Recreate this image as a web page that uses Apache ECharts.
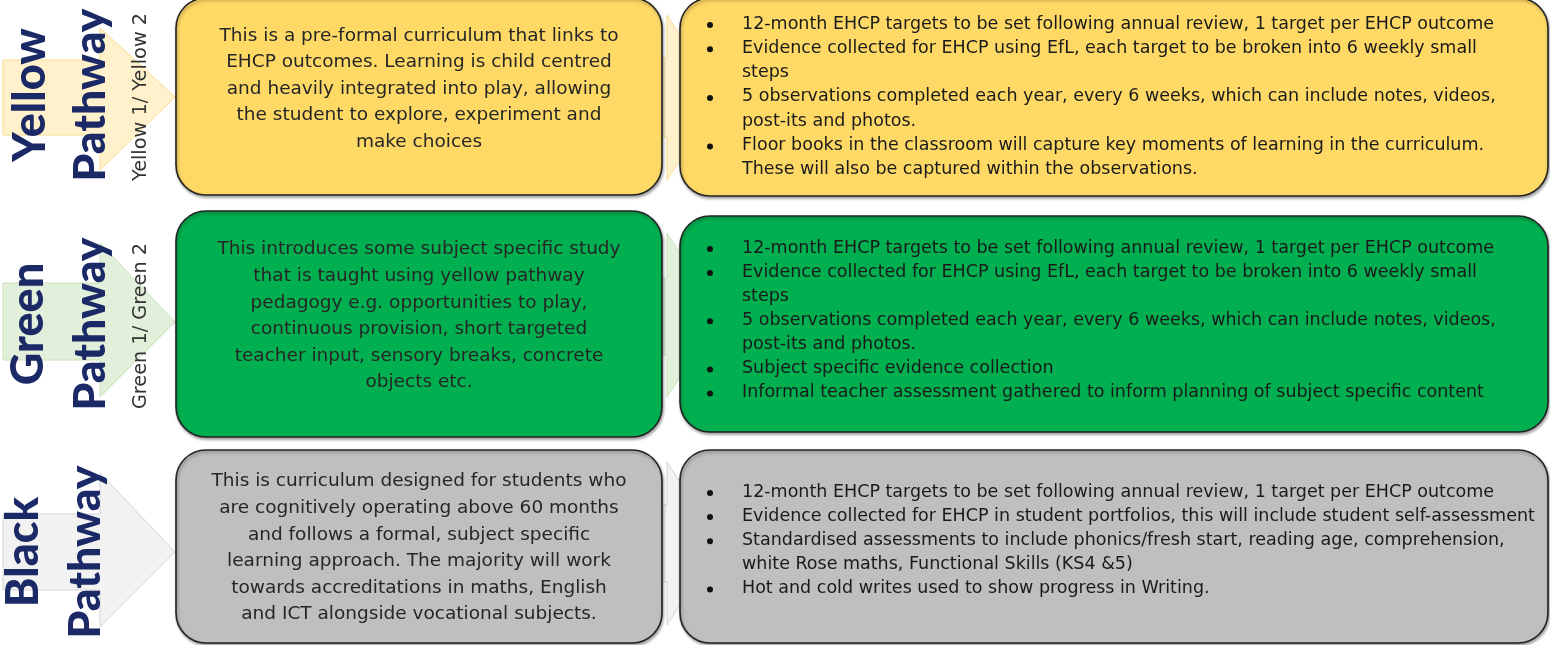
<!DOCTYPE html>
<html>
<head>
<meta charset="utf-8">
<script src="https://cdn.jsdelivr.net/npm/echarts@6/dist/echarts.min.js"></script>
<style>html,body{margin:0;padding:0;background:#fff;}#c{width:1550px;height:645px;}</style>
</head>
<body>
<div id="c"></div>
<script>
// ---- content ----
const pathways = ['Yellow', 'Green', 'Black'];
const pathwayWord = 'Pathway';
const stageLabels = ['Yellow 1/ Yellow 2', 'Green 1/ Green 2', ''];
const descriptions = [
  ['This is a pre-formal curriculum that links to', 'EHCP outcomes. Learning is child centred', 'and heavily integrated into play, allowing', 'the student to explore, experiment and', 'make choices'],
  ['This introduces some subject specific study', 'that is taught using yellow pathway', 'pedagogy e.g. opportunities to play,', 'continuous provision, short targeted', 'teacher input, sensory breaks, concrete', 'objects etc.'],
  ['This is curriculum designed for students who', 'are cognitively operating above 60 months', 'and follows a formal, subject specific', 'learning approach. The majority will work', 'towards accreditations in maths, English', 'and ICT alongside vocational subjects.']
];
const assessments = [
  [
    ['12-month EHCP targets to be set following annual review, 1 target per EHCP outcome'],
    ['Evidence collected for EHCP using EfL, each target to be broken into 6 weekly small', 'steps'],
    ['5 observations completed each year, every 6 weeks, which can include notes, videos,', 'post-its and photos.'],
    ['Floor books in the classroom will capture key moments of learning in the curriculum.', 'These will also be captured within the observations.']
  ],
  [
    ['12-month EHCP targets to be set following annual review, 1 target per EHCP outcome'],
    ['Evidence collected for EHCP using EfL, each target to be broken into 6 weekly small', 'steps'],
    ['5 observations completed each year, every 6 weeks, which can include notes, videos,', 'post-its and photos.'],
    ['Subject specific evidence collection'],
    ['Informal teacher assessment gathered to inform planning of subject specific content']
  ],
  [
    ['12-month EHCP targets to be set following annual review, 1 target per EHCP outcome'],
    ['Evidence collected for EHCP in student portfolios, this will include student self-assessment'],
    ['Standardised assessments to include phonics/fresh start, reading age, comprehension,', 'white Rose maths, Functional Skills (KS4 &5)'],
    ['Hot and cold writes used to show progress in Writing.']
  ]
];

// ---- styles ----
const boxFills = ['#ffd966', '#00b050', '#bfbfbf'];
const arrowFills = ['#fff1cc', '#e2efda', '#f2f2f2'];
const arrowStrokes = ['#fadb8e', '#c9e2b8', '#d4d4d4'];
const navy = '#1b2a66';

// ---- layout (canvas units) ----
const colX = { arrowL: 3, headBase: 100, tip: 175, leftBox: 176, leftBoxR: 662, midHeadBase: 667, midTip: 720, rightBox: 680, rightBoxR: 1548, bullet: 710, bulletText: 742 };
const rowLayout = [
  { top: -2, bottom: 195, rTop: -2, rBottom: 196, descY: 89, firstLine: 24, lh: 24.3, rect: [60, 135], head: [28, 170], tipY: 97, mRect: [58, 137], mHead: [15, 180], labelY: 95, wordX: 30, pathX: 91, stageY: 97 },
  { top: 211, bottom: 437, rTop: 216, rBottom: 432, descY: 316, firstLine: 248, lh: 24.1, rect: [283, 360], head: [243, 397], tipY: 322, mRect: [278, 355], mHead: [233, 397], labelY: 324, wordX: 28, pathX: 91, stageY: 326 },
  { top: 450, bottom: 643, rTop: 450, rBottom: 643, descY: 548, firstLine: 492, lh: 24.1, rect: [514, 590], head: [473, 627], tipY: 552, mRect: [505, 582], mHead: [462, 625], labelY: 552, wordX: 23, pathX: 86, stageY: 550 }
];

const chart = echarts.init(document.getElementById('c'), null, { renderer: 'canvas' });

function renderItem(params, api) {
  const i = api.value(0);
  const L = rowLayout[i];
  const P = (x, y) => api.coord([x, y]);
  const children = [];
  const arrow = (x0, hb, tip, rect, head, ty) => [P(x0, rect[0]), P(hb, rect[0]), P(hb, head[0]), P(tip, ty), P(hb, head[1]), P(hb, rect[1]), P(x0, rect[1])];
  children.push({ type: 'polygon', shape: { points: arrow(colX.arrowL, colX.headBase, colX.tip, L.rect, L.head, L.tipY) }, style: { fill: arrowFills[i], stroke: arrowStrokes[i], lineWidth: 1 } });
  children.push({ type: 'polygon', shape: { points: arrow(600, colX.midHeadBase, colX.midTip, L.mRect, L.mHead, (L.mHead[0] + L.mHead[1]) / 2) }, style: { fill: arrowFills[i], stroke: arrowStrokes[i], lineWidth: 1 } });
  const boxStyle = { fill: boxFills[i], stroke: '#222', lineWidth: 1.6, shadowBlur: 3, shadowOffsetX: 1, shadowOffsetY: 2, shadowColor: 'rgba(0,0,0,0.35)' };
  const a = P(colX.leftBox, L.top), b = P(colX.leftBoxR, L.bottom);
  children.push({ type: 'rect', shape: { x: a[0], y: a[1], width: b[0] - a[0], height: b[1] - a[1], r: 30 }, style: boxStyle });
  const c1 = P(colX.rightBox, L.rTop), c2 = P(colX.rightBoxR, L.rBottom);
  children.push({ type: 'rect', shape: { x: c1[0], y: c1[1], width: c2[0] - c1[0], height: c2[1] - c1[1], r: 30 }, style: boxStyle });
  const w = P(L.wordX, L.labelY);
  children.push({ type: 'text', x: w[0], y: w[1], rotation: Math.PI / 2, style: { text: pathways[i], align: 'center', verticalAlign: 'middle', fontFamily: 'Lato', fontWeight: 900, fontSize: 45, fill: navy } });
  const pw = P(L.pathX, L.labelY);
  children.push({ type: 'text', x: pw[0], y: pw[1], rotation: Math.PI / 2, style: { text: pathwayWord, align: 'center', verticalAlign: 'middle', fontFamily: 'Lato', fontWeight: 900, fontSize: 44.5, fill: navy } });
  if (stageLabels[i]) {
    const s = P(141, L.stageY);
    children.push({ type: 'text', x: s[0], y: s[1], rotation: Math.PI / 2, style: { text: stageLabels[i], align: 'center', verticalAlign: 'middle', fontFamily: 'DejaVu Sans', fontSize: 19.3, fill: '#333' } });
  }
  const d = P((colX.leftBox + colX.leftBoxR) / 2, L.descY);
  children.push({ type: 'text', x: d[0], y: d[1], style: { text: descriptions[i].join('\n'), align: 'center', verticalAlign: 'middle', fontFamily: 'DejaVu Sans', fontSize: 18.5, lineHeight: 26.6, fill: '#262626' } });
  let k = 0;
  assessments[i].forEach(item => {
    const bp = P(colX.bullet, L.firstLine + k * L.lh);
    children.push({ type: 'circle', shape: { cx: bp[0], cy: bp[1] + 1, r: 3 }, style: { fill: '#111' } });
    item.forEach(line => {
      const tp = P(colX.bulletText, L.firstLine + k * L.lh);
      children.push({ type: 'text', x: tp[0], y: tp[1], style: { text: line, align: 'left', verticalAlign: 'middle', fontFamily: 'DejaVu Sans', fontSize: 17.5, fill: '#1a1a1a' } });
      k++;
    });
  });
  return { type: 'group', children };
}

chart.setOption({
  animation: false,
  grid: { left: 0, right: 0, top: 0, bottom: 0 },
  xAxis: { type: 'value', min: 0, max: 1550, show: false },
  yAxis: { type: 'value', min: 0, max: 645, inverse: true, show: false },
  series: [{ type: 'custom', renderItem, clip: false, data: pathways.map((p, i) => [i]) }]
});
</script>
</body>
</html>
